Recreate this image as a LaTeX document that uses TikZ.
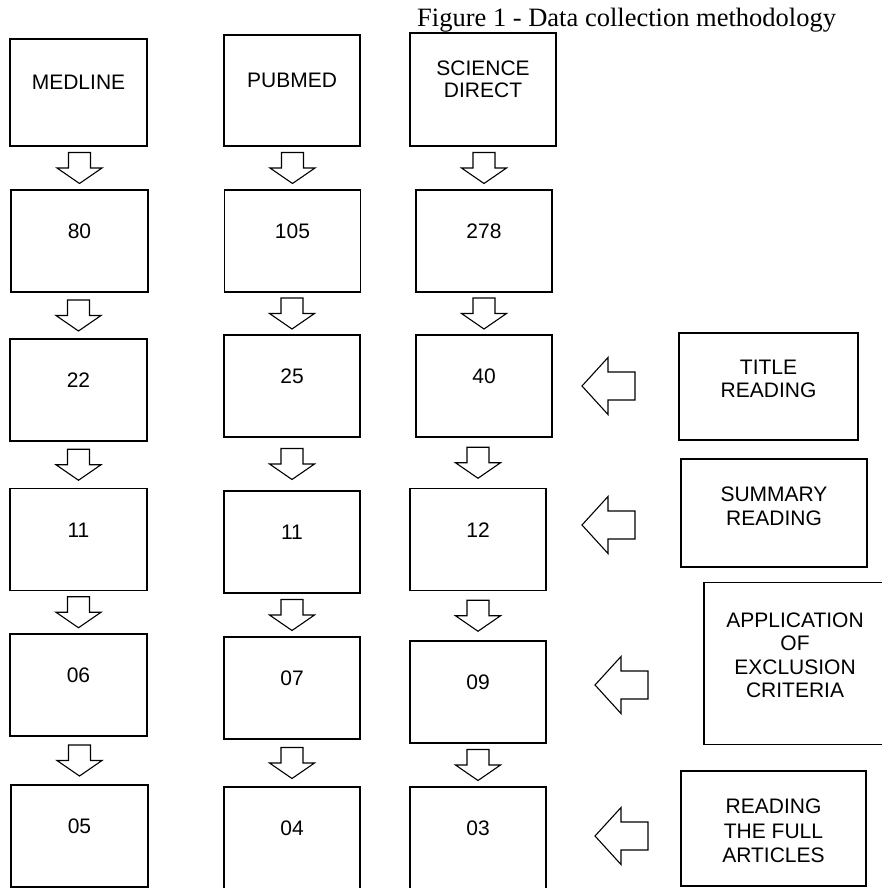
\documentclass[tikz,border=0pt]{standalone}
\usepackage{fontspec}
\setmainfont{Liberation Serif}
\setsansfont{Liberation Sans}
\usetikzlibrary{calc}
\def\dn{-- ++(-22.5,-15.5) -- ++(11.5,0) -- ++(0,-15.5) -- ++(22,0) -- ++(0,15.5) -- ++(11.5,0) -- cycle}
\def\lf{-- ++(26,-28.5) -- ++(0,14.5) -- ++(27,0) -- ++(0,28) -- ++(-27,0) -- ++(0,14.5) -- cycle}
\def\darr#1#2{\draw[blk] ($(#2.north)!.5!(#2.north |- #1.south)+(0,15.5)$) \dn;}

\begin{document}
\begin{tikzpicture}[x=1pt, y=-1pt,
    box/.style={draw, line width=1.3pt, inner sep=0pt, minimum width=137pt,
      minimum height=102pt, align=center, text height=15pt, text depth=20pt,
      font=\fontsize{21}{23.5}\selectfont\sffamily},
    blk/.style={draw, line width=1.1pt}]
    \useasboundingbox (0,0) rectangle (882,888);
    \node[anchor=base west, inner sep=0pt, font=\fontsize{26.5}{30}\selectfont] (title) at (417,27) {Figure 1 - Data collection methodology};
    % medline
    \node[box, minimum height=107pt, text depth=21pt] (md) at (78.5,92.5) {MEDLINE};
    \node[box] (m1) at (79.5,241) {80};
    \node[box] (m2) at (78.5,390) {22};
    \node[box] (m3) at (78.5,539.5) {11};
    \node[box] (m4) at (78.5,685) {06};
    \node[box] (m5) at (79.5,836) {05};
    % pubmed
    \node[box, minimum width=136pt, minimum height=111pt, text depth=21pt] (pm) at (292,90.5) {PUBMED};
    \node[box, minimum width=136pt] (p1) at (292.5,241) {105};
    \node[box, minimum width=136pt] (p2) at (292,386) {25};
    \node[box, minimum width=136pt] (p3) at (292,542) {11};
    \node[box, minimum width=136pt] (p4) at (292,688) {07};
    \node[box, minimum width=136pt] (p5) at (292,838) {04};
    % science direct
    \node[box, minimum width=146pt, minimum height=113pt, text height=31pt, text depth=15pt,
      font=\fontsize{21}{22}\selectfont\sffamily] (sd) at (483,89.5) {SCIENCE\\DIRECT};
    \node[box, minimum width=136pt] (s1) at (484,241) {278};
    \node[box, minimum width=136pt] (s2) at (484,386) {40};
    \node[box, minimum width=136pt] (s3) at (478,539.5) {12};
    \node[box, minimum width=136pt] (s4) at (478,692) {09};
    \node[box, minimum width=136pt] (s5) at (478,838) {03};
    % steps
    \node[box, minimum width=179pt, minimum height=107pt, text height=37pt, text depth=15pt] (tr) at (768.5,386.5) {TITLE\\READING};
    \node[box, minimum width=186pt, minimum height=108pt, text height=40pt, text depth=15pt,
      font=\fontsize{21}{24.5}\selectfont\sffamily] (sr) at (774,513) {SUMMARY\\READING};
    \node[box, minimum width=182pt, minimum height=162pt, text height=83pt, text depth=15pt] (ec) at (795,663.5) {APPLICATION\\OF\\EXCLUSION\\CRITERIA};
    \node[box, minimum width=185pt, minimum height=115pt, text height=83pt, text depth=15pt,
      font=\fontsize{21}{24.5}\selectfont\sffamily] (fr) at (773.5,828.5) {READING\\THE FULL\\ARTICLES};

    \darr{md}{m1} \darr{m1}{m2} \darr{m2}{m3} \darr{m3}{m4} \darr{m4}{m5}
    \darr{pm}{p1} \darr{p1}{p2} \darr{p2}{p3} \darr{p3}{p4} \darr{p4}{p5}
    \darr{sd}{s1} \darr{s1}{s2} \darr{s2}{s3} \darr{s3}{s4} \darr{s4}{s5}

    \draw[blk] (582,386) \lf;
    \draw[blk] (582,525) \lf;
    \draw[blk] (595,685) \lf;
    \draw[blk] (595,836) \lf;
\end{tikzpicture}
\end{document}
